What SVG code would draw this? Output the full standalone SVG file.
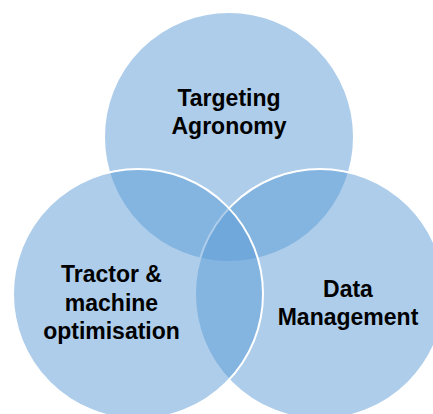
<svg xmlns="http://www.w3.org/2000/svg" width="433" height="414" viewBox="0 0 433 414">
  <style>
    .c { fill: #5B9BD5; fill-opacity: 0.5; stroke: #FFFFFF; stroke-width: 2; }
    .t { font-family: "Liberation Sans", Arial, sans-serif; font-weight: bold; font-size: 23px; fill: #000000; text-anchor: middle; }
  </style>
  <rect x="0" y="0" width="433" height="414" fill="#FFFFFF"/>
  <g id="top">
    <circle class="c" cx="229" cy="137" r="125"/>
  </g>
  <g id="right">
    <circle class="c" cx="320" cy="294" r="125"/>
  </g>
  <g id="left">
    <circle class="c" cx="138" cy="294" r="125"/>
  </g>
  <g id="connectors"></g>
  <g id="labels">
    <g id="label-top">
      <text class="t" x="229" y="106">Targeting</text>
      <text class="t" x="229" y="134">Agronomy</text>
    </g>
    <g id="label-left">
      <text class="t" x="111.5" y="282">Tractor &amp;</text>
      <text class="t" x="111.5" y="311">machine</text>
      <text class="t" x="111.5" y="339">optimisation</text>
    </g>
    <g id="label-right">
      <text class="t" x="348" y="297">Data</text>
      <text class="t" x="348" y="325">Management</text>
    </g>
  </g>
</svg>
